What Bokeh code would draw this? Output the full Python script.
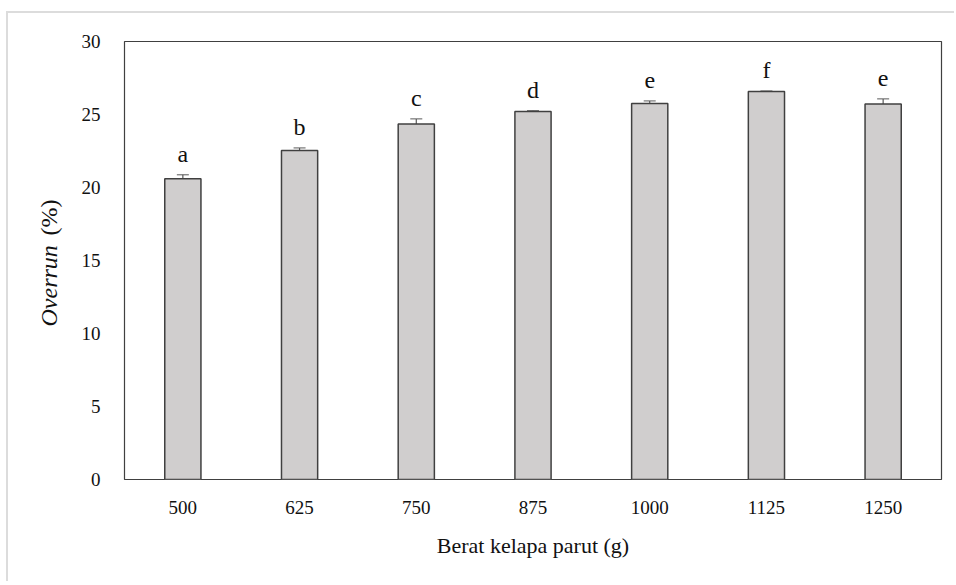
from math import pi
from bokeh.plotting import figure
from bokeh.layouts import row
from bokeh.models import ColumnDataSource, Whisker, LabelSet, Label, FactorRange, Range1d
from bokeh.embed import file_html
from bokeh.resources import INLINE

categories = ["500", "625", "750", "875", "1000", "1125", "1250"]
overrun = [20.6, 22.53, 24.35, 25.2, 25.75, 26.58, 25.72]
err = [0.27, 0.18, 0.35, 0.06, 0.18, 0.03, 0.35]
letters = ["a", "b", "c", "d", "e", "f", "e"]
y_ticks = [0, 5, 10, 15, 20, 25, 30]

FONT = "Liberation Serif"
FH = 438
LW = 70

src = ColumnDataSource(dict(
    cat=categories,
    val=overrun,
    upper=[v + e for v, e in zip(overrun, err)],
    lower=[v - e for v, e in zip(overrun, err)],
    lab=letters,
))

p = figure(x_range=FactorRange(*categories), y_range=Range1d(0, 30),
           frame_width=817, frame_height=FH,
           output_backend="svg", toolbar_location=None)
p.min_border_left = 123 - 8 - LW
p.min_border_top = 28
p.min_border_right = 15
p.min_border_bottom = 104

p.vbar(x="cat", top="val", width=0.31, source=src,
       fill_color="#d0cece", line_color="#404040", line_width=1.5)

w = Whisker(base="cat", upper="upper", lower="lower", source=src,
            line_color="#595959", line_width=1.2)
w.upper_head.size = 12
w.lower_head.size = 12
w.upper_head.line_color = "#595959"
w.lower_head.line_color = "#595959"
p.add_layout(w)

p.add_layout(LabelSet(x="cat", y="upper", text="lab", source=src,
                      y_offset=13, text_align="center", text_baseline="alphabetic",
                      text_font=FONT, text_font_size="24px", text_color="#111111"))

p.xgrid.grid_line_color = None
p.ygrid.grid_line_color = None
p.outline_line_color = "#404040"
p.outline_line_width = 1.2
p.background_fill_color = "white"
p.border_fill_color = "white"

for ax in (p.xaxis, p.yaxis):
    ax.axis_line_color = None
    ax.major_tick_line_color = None
    ax.minor_tick_line_color = None
    ax.major_label_text_font = FONT
    ax.major_label_text_font_size = "19px"
    ax.major_label_text_color = "#111111"

p.yaxis.ticker = y_ticks
p.xaxis.major_label_standoff = 15
p.yaxis.major_label_standoff = 18

p.xaxis.axis_label = "Berat kelapa parut (g)"
p.xaxis.axis_label_text_font = FONT
p.xaxis.axis_label_text_font_size = "22px"
p.xaxis.axis_label_text_font_style = "normal"
p.xaxis.axis_label_text_color = "#111111"
p.xaxis.axis_label_standoff = 16

# narrow strip holding the y-axis title (italic "Overrun" + upright "(%)");
# its frame is aligned with the main frame (page y 41..479)
yl = figure(frame_width=LW, frame_height=FH, x_range=Range1d(0, LW), y_range=Range1d(0, FH),
            x_axis_location=None, y_axis_location=None,
            output_backend="svg", toolbar_location=None, min_border=0)
yl.outline_line_color = None
yl.xgrid.grid_line_color = None
yl.ygrid.grid_line_color = None
yl.add_layout(Label(x=40, y=479 - 326, text="Overrun", angle=pi / 2, text_align="left",
                    text_baseline="middle", text_font=FONT, text_font_size="24px",
                    text_font_style="italic", text_color="#111111"))
yl.add_layout(Label(x=40, y=479 - 235, text="(%)", angle=pi / 2, text_align="left",
                    text_baseline="middle", text_font=FONT, text_font_size="24px",
                    text_color="#111111"))

layout = row(yl, p, spacing=0)
layout.margin = (13, 0, 0, 8)
layout.styles = {"box-shadow": "-2px -2px 0 0 #dcdcdc"}

open("out.html", "w").write(file_html(layout, INLINE))
